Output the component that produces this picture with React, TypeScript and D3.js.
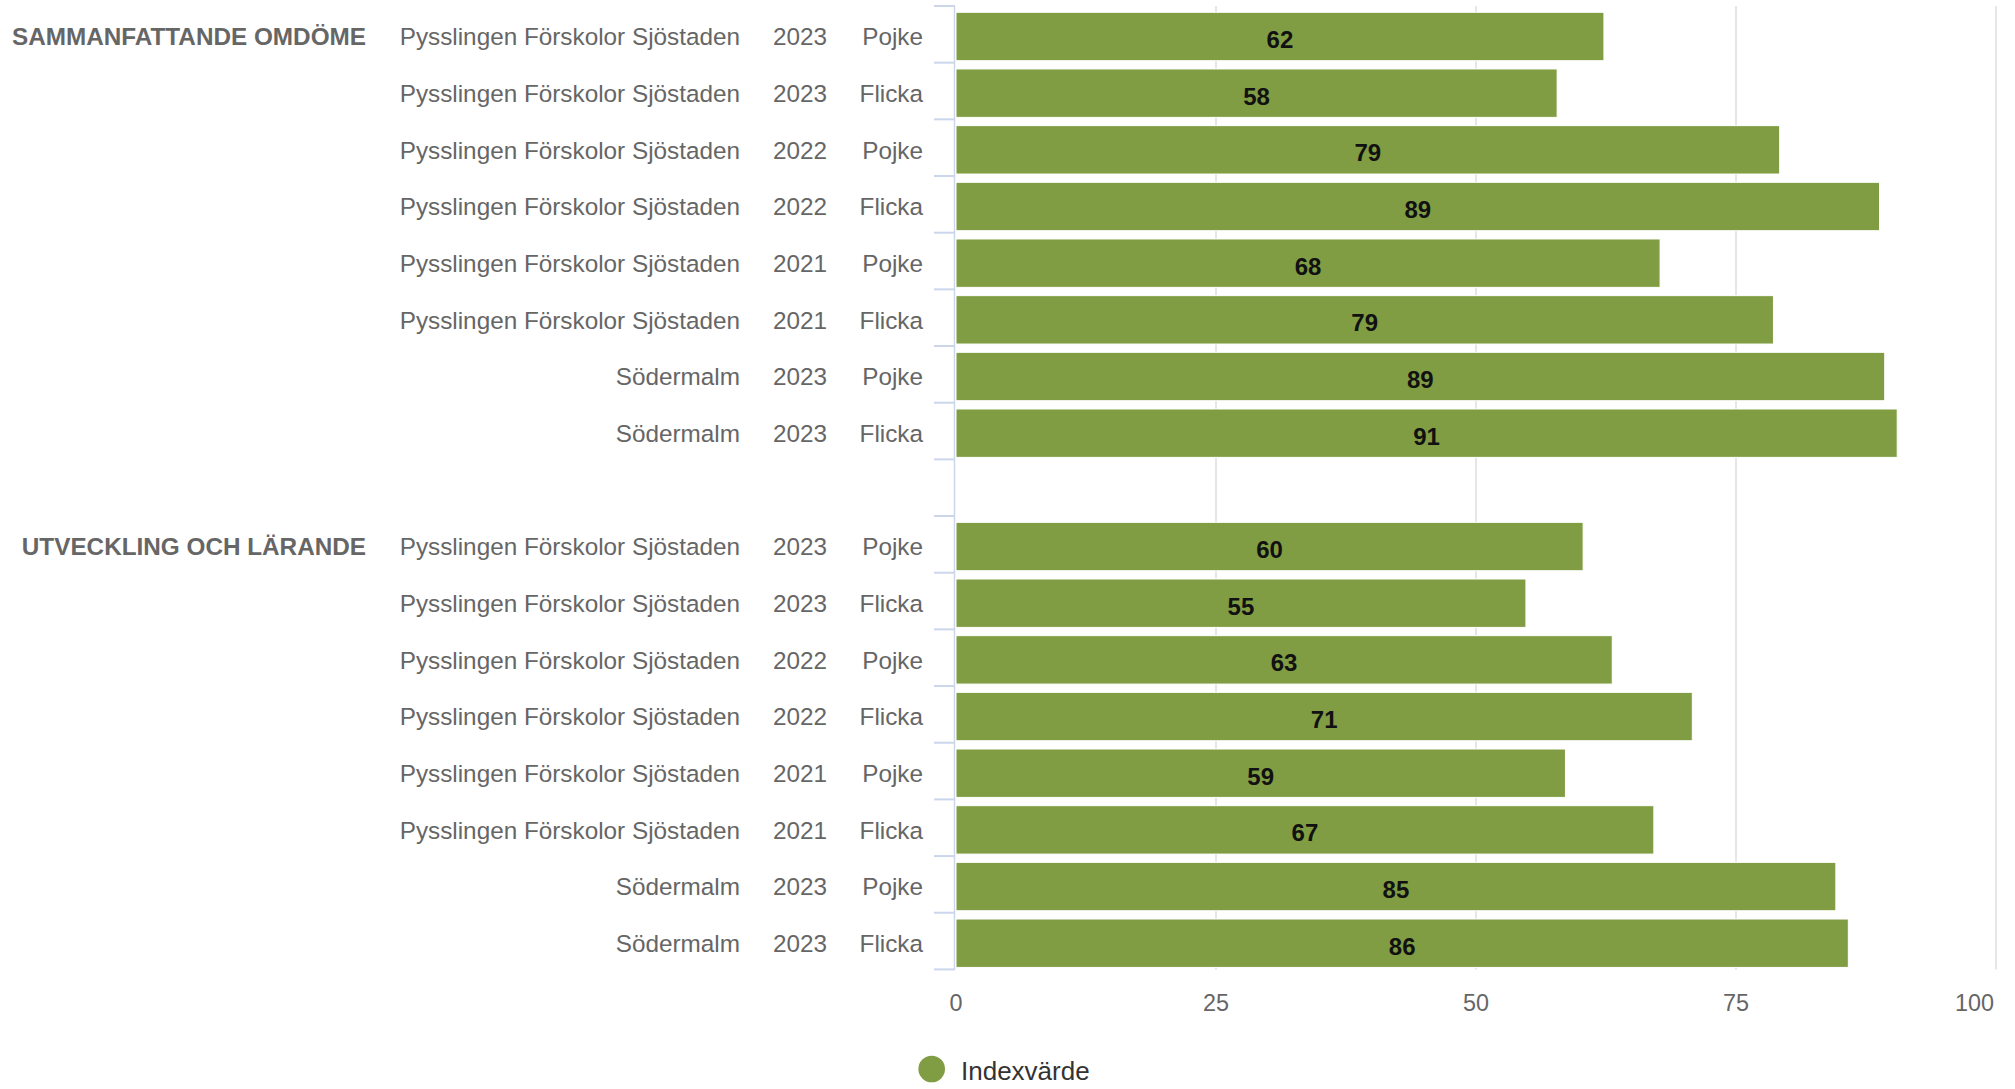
import React from "react";
import * as d3 from "d3";

const groupNames = ["SAMMANFATTANDE OMDÖME", "UTVECKLING OCH LÄRANDE"];
const unitNames = [
  "Pysslingen Förskolor Sjöstaden",
  "Pysslingen Förskolor Sjöstaden",
  "Pysslingen Förskolor Sjöstaden",
  "Pysslingen Förskolor Sjöstaden",
  "Pysslingen Förskolor Sjöstaden",
  "Pysslingen Förskolor Sjöstaden",
  "Södermalm",
  "Södermalm",
];
const years = ["2023", "2023", "2022", "2022", "2021", "2021", "2023", "2023"];
const genders = ["Pojke", "Flicka", "Pojke", "Flicka", "Pojke", "Flicka", "Pojke", "Flicka"];
const valuesSammanfattande = [62.3, 57.8, 79.2, 88.8, 67.7, 78.6, 89.3, 90.5];
const valuesUtveckling = [60.3, 54.8, 63.1, 70.8, 58.6, 67.1, 84.6, 85.8];
const groupValues = [valuesSammanfattande, valuesUtveckling];
const xTicks = [0, 25, 50, 75, 100];
const seriesName = "Indexvärde";

const W = 2015;
const H = 1089;
const FONT = "'Liberation Sans', Arial, Helvetica, sans-serif";
const GREEN = "#809d43";

type Row = { key: string; group?: string; unit?: string; year?: string; gender?: string; value?: number };

const rows: Row[] = [];
groupValues.forEach((vals, gi) => {
  if (gi > 0) rows.push({ key: `gap-${gi}` });
  vals.forEach((v, i) => {
    rows.push({
      key: `${gi}-${i}`,
      group: i === 0 ? groupNames[gi] : undefined,
      unit: unitNames[i],
      year: years[i],
      gender: genders[i],
      value: v,
    });
  });
});

export default function App() {
  const x = d3.scaleLinear().domain([0, 100]).range([956, 1996]);
  const y = d3
    .scaleBand<string>()
    .domain(rows.map((r) => r.key))
    .range([6, 969.4])
    .paddingInner(0)
    .paddingOuter(0);
  const bw = y.bandwidth();
  const barTop = bw * 0.111;
  const barH = bw * 0.854;
  const [y0, y1] = y.range();
  const catFont = 24.3;

  return (
    <svg
      width={W}
      height={H}
      style={{ position: "absolute", left: 0, top: 0, display: "block", background: "#fff" }}
      fontFamily={FONT}
    >
      {/* grid lines */}
      {xTicks.slice(1).map((t) => (
        <line key={`g${t}`} x1={x(t)} x2={x(t)} y1={y0} y2={y1} stroke="#e6e6e6" strokeWidth={2} />
      ))}
      {/* category axis line and ticks */}
      <line x1={954.5} x2={954.5} y1={y0} y2={y1} stroke="#ccd6eb" strokeWidth={1.5} />
      {rows.map((r) => (
        <line
          key={`t${r.key}`}
          x1={934}
          x2={955}
          y1={y(r.key) as number}
          y2={y(r.key) as number}
          stroke="#ccd6eb"
          strokeWidth={2}
        />
      ))}
      <line x1={934} x2={955} y1={y1} y2={y1} stroke="#ccd6eb" strokeWidth={2} />

      {/* bars */}
      {rows
        .filter((r) => r.value !== undefined)
        .map((r) => {
          const yy = (y(r.key) as number) + barTop;
          return (
            <rect
              key={`b${r.key}`}
              x={x(0)}
              y={yy}
              width={x(r.value as number) - x(0)}
              height={barH}
              fill={GREEN}
              stroke="#ffffff"
              strokeWidth={1}
            />
          );
        })}
      {/* data labels */}
      {rows
        .filter((r) => r.value !== undefined)
        .map((r) => {
          const cy = (y(r.key) as number) + barTop + barH / 2;
          return (
            <text
              key={`l${r.key}`}
              x={(x(0) + x(r.value as number)) / 2}
              y={cy + 11.5}
              textAnchor="middle"
              fontSize={24}
              fontWeight="bold"
              fill="#111"
            >
              {Math.round(r.value as number)}
            </text>
          );
        })}

      {/* category labels */}
      {rows
        .filter((r) => r.value !== undefined)
        .map((r) => {
          const cy = (y(r.key) as number) + barTop + barH / 2;
          const base = cy + 8.7;
          return (
            <g key={`c${r.key}`} fontSize={catFont} fill="#666">
              {r.group && (
                <text x={366} y={base} textAnchor="end" fontWeight="bold">
                  {r.group}
                </text>
              )}
              <text x={740} y={base} textAnchor="end">
                {r.unit}
              </text>
              <text x={827} y={base} textAnchor="end">
                {r.year}
              </text>
              <text x={923} y={base} textAnchor="end">
                {r.gender}
              </text>
            </g>
          );
        })}

      {/* x axis tick labels */}
      {xTicks.map((t, i) => (
        <text
          key={`x${t}`}
          x={i === xTicks.length - 1 ? x(t) - 2 : x(t)}
          y={1010.5}
          textAnchor={i === xTicks.length - 1 ? "end" : "middle"}
          fontSize={23.4}
          fill="#666"
        >
          {t}
        </text>
      ))}

      {/* legend */}
      <circle cx={931.7} cy={1069} r={13.3} fill={GREEN} />
      <text x={961} y={1080} fontSize={26} fill="#333">
        {seriesName}
      </text>
    </svg>
  );
}
